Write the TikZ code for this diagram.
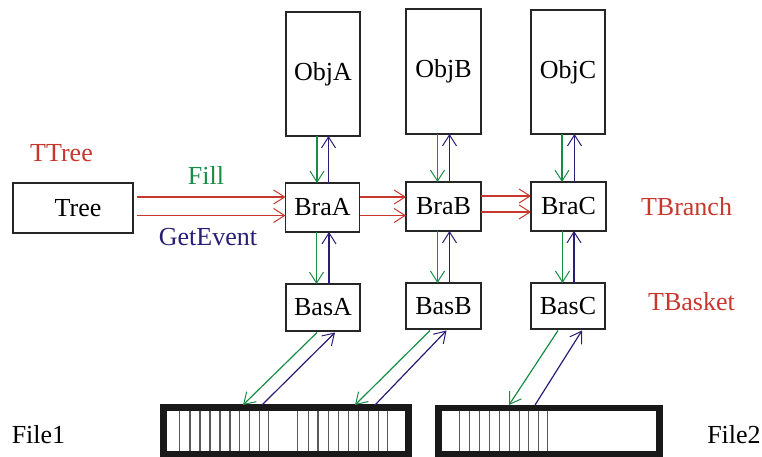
\documentclass[tikz,border=0pt]{standalone}
\usepackage{fontspec}
\setmainfont{Liberation Serif}
\usetikzlibrary{arrows.meta}
\definecolor{cred}{RGB}{200,55,45}
\definecolor{cgreen}{RGB}{25,140,70}
\definecolor{cblue}{RGB}{40,30,120}
\definecolor{cgray}{RGB}{90,90,90}
\tikzset{
  box/.style={draw=black!85,line width=1.2pt,inner sep=0pt,outer sep=0pt,font=\fontsize{26}{30}\selectfont},
  lbl/.style={anchor=base,inner sep=0pt,font=\fontsize{26}{30}\selectfont},
  tip/.style={-{Straight Barb[length=11pt,width=14pt,line width=1pt]}},
  rarr/.style={tip,draw=cred,line width=1.2pt},
  garr/.style={tip,draw=cgreen,line width=1.2pt},
  barr/.style={tip,draw=cblue,line width=1.2pt},
  filebar/.style={draw=black!90,line width=6.5pt},
  slot/.style={draw=cgray,line width=1.2pt}
}
\begin{document}
\begin{tikzpicture}[x=1pt,y=-1pt]
\useasboundingbox (0,0) rectangle (762,457);
% boxes
\node[box,minimum width=74pt,minimum height=124pt] (ObjA) at (323,74) {ObjA};
\node[box,minimum width=75pt,minimum height=125pt] (ObjB) at (443.5,71.5) {ObjB};
\node[box,minimum width=74pt,minimum height=124pt] (ObjC) at (568,72) {ObjC};
\node[box,minimum width=74pt,minimum height=49pt] (BraA) at (322.5,207.5) {BraA};
\node[box,minimum width=75pt,minimum height=49pt] (BraB) at (443.5,206.5) {BraB};
\node[box,minimum width=75pt,minimum height=49pt] (BraC) at (568.5,206.5) {BraC};
\node[box,minimum width=74pt,minimum height=47pt] (BasA) at (323,307.5) {BasA};
\node[box,minimum width=75pt,minimum height=46pt] (BasB) at (443.5,306) {BasB};
\node[box,minimum width=74pt,minimum height=46pt] (BasC) at (568,306) {BasC};
\node[box,minimum width=120pt,minimum height=50pt] (Tree) at (73,208) {\hspace{10pt}Tree};
% labels
\node[lbl,text=cred] (lTTree) at (61.5,162) {TTree};
\node[lbl,text=cgreen] (lFill) at (206,185) {Fill};
\node[lbl,text=cblue] (lGet) at (208,245) {GetEvent};
\node[lbl,text=cred] (lTBranch) at (686.5,215) {TBranch};
\node[lbl,text=cred] (lTBasket) at (691.5,310) {TBasket};
\node[lbl] (lFile1) at (38.5,443) {File1};
\node[lbl] (lFile2) at (734,443) {File2};
% file bars
\draw[filebar] (163.5,407.5) rectangle (408.5,454);
\draw[filebar] (438.5,408) rectangle (659.5,454);
\foreach \x in {179.5,190,200,210,220,230,239.5,249.5,259.5,268.5,297.5,308.5,318,328.5,338.5,348.5,358.5,368.5,378.5,387.5,
                459.5,469.5,479.5,489.5,499.5,509.5,519.5,528.5,538.5,547.5}
  \draw[slot] (\x,410.7) -- (\x,450.8);
\coordinate (fa1) at (243,405);
\coordinate (fa2) at (262,405);
\coordinate (fb1) at (355,405);
\coordinate (fb2) at (375,405);
\coordinate (fc1) at (509,405);
\coordinate (fc2) at (535,405);
% rows for red arrows
\coordinate (r1) at (0,197);
\coordinate (r2) at (0,215.5);
\coordinate (r3) at (0,196);
\coordinate (r4) at (0,212);
\draw[rarr,shorten <=4pt] (Tree.east |- r1) -- (BraA.west |- r1);
\draw[rarr,shorten <=4pt] (Tree.east |- r2) -- (BraA.west |- r2);
\draw[rarr] (BraA.east |- r1) -- (BraB.west |- r1);
\draw[rarr] (BraA.east |- r2) -- (BraB.west |- r2);
\draw[rarr] (BraB.east |- r3) -- (BraC.west |- r3);
\draw[rarr] (BraB.east |- r4) -- (BraC.west |- r4);
% vertical arrows
\foreach \o/\b/\s in {ObjA/BraA/BasA,ObjB/BraB/BasB,ObjC/BraC/BasC}{
  \draw[garr] ([xshift=-6pt]\o.south) -- ([xshift=-6pt]\o.south |- \b.north);
  \draw[barr] ([xshift=6pt]\b.north) -- ([xshift=6pt]\b.north |- \o.south);
  \draw[garr] ([xshift=-6pt]\b.south) -- ([xshift=-6pt]\b.south |- \s.north);
  \draw[barr] ([xshift=6pt]\s.north) -- ([xshift=6pt]\s.north |- \b.south);
}
% diagonal arrows
\draw[garr] ([xshift=-6pt,yshift=-1.5pt]BasA.south) -- (fa1);
\draw[barr] (fa2) -- ([xshift=12pt,yshift=-1.5pt]BasA.south);
\draw[garr] ([xshift=-13.5pt,yshift=-1.5pt]BasB.south) -- (fb1);
\draw[barr] (fb2) -- ([xshift=3pt,yshift=-1.5pt]BasB.south);
\draw[garr] ([xshift=-10pt,yshift=-1.5pt]BasC.south) -- (fc1);
\draw[barr] (fc2) -- ([xshift=14pt,yshift=-1.5pt]BasC.south);
\end{tikzpicture}
\end{document}
